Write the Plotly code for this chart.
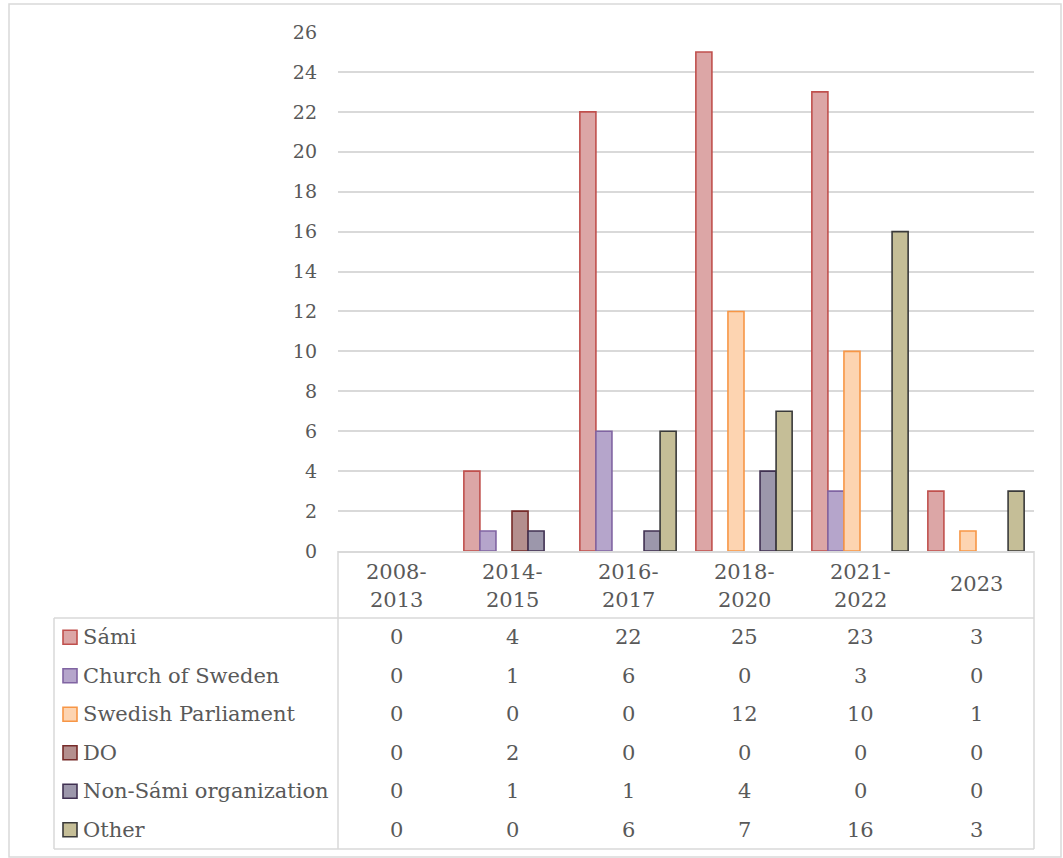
import plotly.graph_objects as go

W, H = 1063, 858

categories = ["2008-2013", "2014-2015", "2016-2017", "2018-2020", "2021-2022", "2023"]
header_lines = [["2008-", "2013"], ["2014-", "2015"], ["2016-", "2017"],
                ["2018-", "2020"], ["2021-", "2022"], ["2023"]]
series_names = ["Sámi", "Church of Sweden", "Swedish Parliament", "DO",
                "Non-Sámi organization", "Other"]
sami = [0, 4, 22, 25, 23, 3]
church = [0, 1, 6, 0, 3, 0]
parliament = [0, 0, 0, 12, 10, 1]
do = [0, 2, 0, 0, 0, 0]
non_sami = [0, 1, 1, 4, 0, 0]
other = [0, 0, 6, 7, 16, 3]
series_values = [sami, church, parliament, do, non_sami, other]
y_ticks = list(range(0, 27, 2))

fills = ["#DCA6A6", "#B5A5CB", "#FDD4B1", "#B48F8E", "#9C97AB", "#C5BE97"]
borders = ["#C0504D", "#8064A2", "#F79646", "#772C2A", "#403152", "#3A3A3A"]

FONT = "DejaVu Serif"
GREY = "#595959"
LINE = "#D9D9D9"

def px(x):
    return x / W

def py(y):
    return 1 - y / H

# plot area in pixels
X0, X1 = 338, 1034
YTOP, YBOT = 32, 551

fig = go.Figure()
for name, vals, f, b in zip(series_names, series_values, fills, borders):
    fig.add_trace(go.Bar(x=categories, y=vals, name=name,
                         marker=dict(color=f,
                                     line=dict(color=b, width=[1.6 if v else 0 for v in vals])),
                         showlegend=False))

fig.update_layout(
    width=W, height=H, margin=dict(l=0, r=0, t=0, b=0, pad=0, autoexpand=False),
    paper_bgcolor="white", plot_bgcolor="white",
    font=dict(family=FONT),
    barmode="group", bargap=0.17, bargroupgap=0,
    xaxis=dict(domain=[px(X0), px(X1)], range=[-0.5, 5.5], showticklabels=False,
               showline=True, linecolor=LINE, linewidth=1.5, ticks="",
               showgrid=False, zeroline=False, fixedrange=True, automargin=False),
    yaxis=dict(domain=[py(YBOT), py(YTOP)], range=[0, 26], tickvals=y_ticks,
               tickfont=dict(family=FONT, size=19, color=GREY),
               showgrid=True, gridcolor=LINE, gridwidth=1.5, zeroline=False,
               showline=False, ticks="", ticklabelstandoff=20, automargin=False),
)

shapes = []
# outer border
shapes.append(dict(type="rect", xref="paper", yref="paper",
                   x0=px(9), x1=px(1061), y0=py(857), y1=py(4),
                   line=dict(color=LINE, width=1.5)))
# table lines
TT, TH, TB, TL = 551, 618, 849, 54
for (xa, ya, xb, yb) in [(TL, TH, X1, TH), (TL, TB, X1, TB), (TL, TH, TL, TB),
                         (X0, TT, X0, TB), (X1, TT, X1, TB)]:
    shapes.append(dict(type="line", xref="paper", yref="paper",
                       x0=px(xa), y0=py(ya), x1=px(xb), y1=py(yb),
                       line=dict(color=LINE, width=1.5)))

annotations = []
col_w = (X1 - X0) / len(categories)
# header
for i, lines in enumerate(header_lines):
    cx = X0 + col_w * (i + 0.5)
    ys = [572, 600] if len(lines) == 2 else [584]
    for t, yy in zip(lines, ys):
        annotations.append(dict(text=t, x=px(cx), y=py(yy), xref="paper", yref="paper",
                                xanchor="center", yanchor="middle", showarrow=False,
                                font=dict(family=FONT, size=21, color=GREY)))
# rows
row_h = (TB - TH) / len(series_names)
for r, (name, vals) in enumerate(zip(series_names, series_values)):
    cy = TH + row_h * (r + 0.5)
    shapes.append(dict(type="rect", xref="paper", yref="paper",
                       x0=px(63), x1=px(77), y0=py(cy + 7), y1=py(cy - 7),
                       fillcolor=fills[r], line=dict(color=borders[r], width=1.6)))
    annotations.append(dict(text=name, x=px(81), y=py(cy), xref="paper", yref="paper",
                            xanchor="left", yanchor="middle", showarrow=False,
                            font=dict(family=FONT, size=21, color=GREY)))
    for i, v in enumerate(vals):
        cx = X0 + col_w * (i + 0.5)
        annotations.append(dict(text=str(v), x=px(cx), y=py(cy), xref="paper", yref="paper",
                                xanchor="center", yanchor="middle", showarrow=False,
                                font=dict(family=FONT, size=21, color=GREY)))

fig.update_layout(shapes=shapes, annotations=annotations)
fig.write_html("out.html")
